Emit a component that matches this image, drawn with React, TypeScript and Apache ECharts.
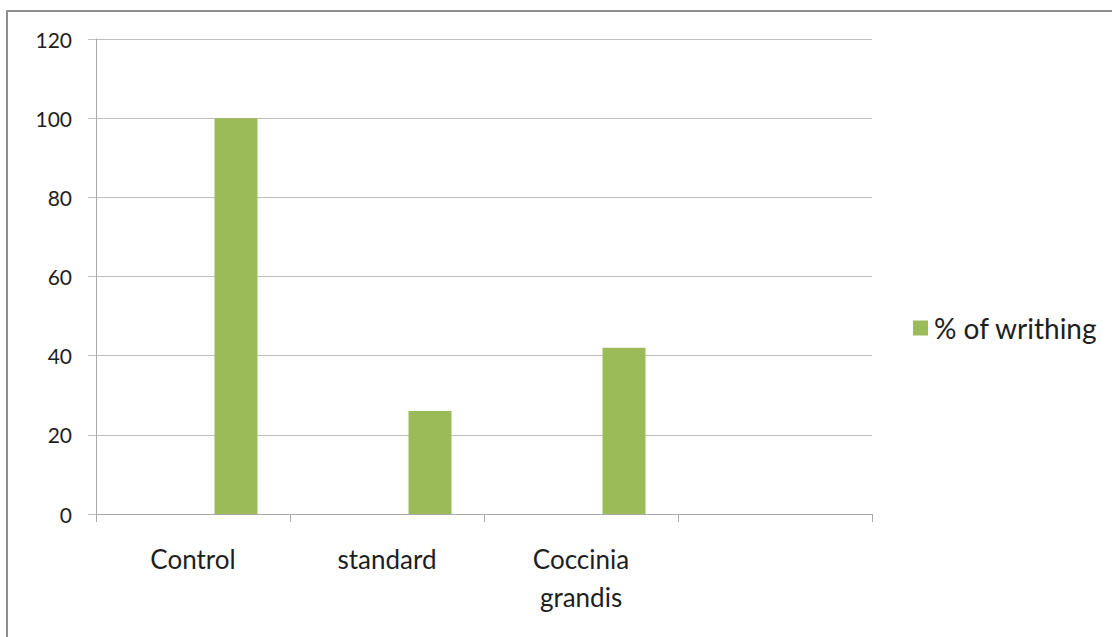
import React, { useEffect, useRef } from "react";
import * as echarts from "echarts";

// Categories along the x axis (the last slot is intentionally left blank)
const categories: string[] = ["Control", "standard", "Coccinia\ngrandis", ""];

// Series values; the first two series are unnamed placeholders with no data
const placeholderA: (number | null)[] = [null, null, null, null];
const placeholderB: (number | null)[] = [null, null, null, null];
const writhing: (number | null)[] = [100, 26, 42, null];

const seriesName = "% of writhing";

// Value axis range
const yMin = 0;
const yMax = 120;
const yStep = 20;

const GRID_COLOR = "#bdbdbd";
const AXIS_COLOR = "#a9a9a9";
const BAR_COLOR = "#9bbb59";
const TEXT_COLOR = "#1e1e1e";
const FONT = "Lato, 'Open Sans', sans-serif";

export default function App() {
  const ref = useRef<HTMLDivElement>(null);

  useEffect(() => {
    if (!ref.current) return;
    const chart = echarts.init(ref.current, undefined, { renderer: "svg" });

    const barStyle = { color: BAR_COLOR };

    chart.setOption({
      animation: false,
      backgroundColor: "#ffffff",
      textStyle: { fontFamily: FONT },
      graphic: [
        {
          type: "rect",
          shape: { x: 7, y: 11, width: 1200, height: 1000 },
          style: { fill: "none", stroke: "#8e8e8e", lineWidth: 2 },
          silent: true,
        },
      ],
      grid: { left: 96, right: 240, top: 39, height: 475, containLabel: false },
      legend: {
        data: [seriesName],
        orient: "vertical",
        left: 913,
        top: 314,
        icon: "rect",
        itemWidth: 15,
        itemHeight: 15,
        itemGap: 8,
        textStyle: { fontFamily: FONT, fontSize: 28, color: TEXT_COLOR, padding: [0, 0, 0, 1] },
        padding: 0,
      },
      xAxis: {
        type: "category",
        data: categories,
        boundaryGap: true,
        axisLine: { show: true, lineStyle: { color: AXIS_COLOR, width: 1 } },
        axisTick: { show: true, alignWithLabel: false, length: 8, lineStyle: { color: AXIS_COLOR } },
        axisLabel: {
          interval: 0,
          margin: 26,
          fontFamily: FONT,
          fontSize: 26,
          lineHeight: 38,
          color: TEXT_COLOR,
        },
        splitLine: { show: false },
      },
      yAxis: {
        type: "value",
        min: yMin,
        max: yMax,
        interval: yStep,
        axisLine: { show: true, lineStyle: { color: AXIS_COLOR, width: 1 } },
        axisTick: { show: true, length: 8, lineStyle: { color: GRID_COLOR } },
        axisLabel: {
          margin: 24,
          fontFamily: FONT,
          fontSize: 21,
          color: TEXT_COLOR,
        },
        splitLine: { show: true, lineStyle: { color: GRID_COLOR, width: 1 } },
      },
      series: [
        { name: "", type: "bar", data: placeholderA, barWidth: 43, barGap: "0%", itemStyle: barStyle },
        { name: " ", type: "bar", data: placeholderB, barWidth: 43, barGap: "0%", itemStyle: barStyle },
        { name: seriesName, type: "bar", data: writhing, barWidth: 43, barGap: "0%", itemStyle: barStyle },
      ],
    });

    return () => chart.dispose();
  }, []);

  return (
    <div
      ref={ref}
      style={{ position: "fixed", left: 0, top: 0, width: 1112, height: 637 }}
    />
  );
}
